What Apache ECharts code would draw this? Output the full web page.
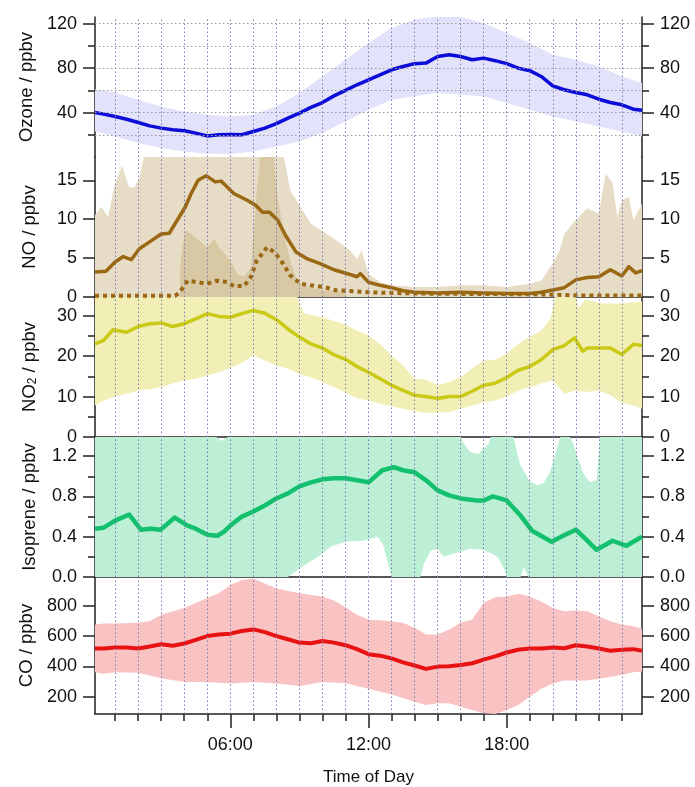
<!DOCTYPE html>
<html><head><meta charset="utf-8">
<script src="https://cdn.jsdelivr.net/npm/echarts@6/dist/echarts.min.js"></script>
<style>html,body{margin:0;padding:0;background:#fff}#c{width:695px;height:787px}</style>
</head><body><div id="c"></div>
<script>
// ---------------- DATA ----------------
const hourGrid = [1,2,3,4,5,6,7,8,9,10,11,12,13,14,15,16,17,18,19,20,21,22,23];
const majorHours = [6,12,18];
const xTickLabels = ['06:00','12:00','18:00'];

// Ozone
const o3Hours = [0.125,0.5,1,1.5,2,2.5,3,3.5,4,4.5,5,5.5,6,6.5,7,7.5,8,8.5,9,9.5,10,10.5,11,11.5,12,12.5,13,13.5,14,14.5,15,15.5,16,16.5,17,17.5,18,18.5,19,19.5,20,20.5,21,21.5,22,22.5,23,23.5,23.875];
const o3Mean  = [40,38.6,36.5,34,31,28,26,24.5,23.6,21.5,19,20,20.3,20,23,26,30,35,39.5,44.6,49,55,60,65,69.5,74,78.5,81.5,84,84.5,90.5,92,90.5,87.5,89,86.7,84,80,77.7,72.5,64,60.5,58,56,52,49,47,43,42];
const o3BandHours = [0.125,1,2,3,4,5,6,7,8,9,10,11,12,13,14,15,16,17,18,19,20,21,22,23,23.875];
const o3Upper = [61,58,51.5,45.5,41,38,36.5,38,45.5,57.5,72.5,87.5,102.5,116,123.6,126.6,126,120.6,111.6,102.5,92,87.5,81.5,72.5,66.5];
const o3Lower = [23,18.5,12.5,8,5,3,2.6,5,9.5,14,21.5,32,42.5,51.5,54.6,57.5,56,54.6,48.5,42.5,36.5,32,27.5,23,18.5];

// NO (solid)
const noHours = [0.125,0.6,1,1.35,1.7,2.05,2.4,3,3.35,3.7,4.05,4.3,4.6,4.95,5.35,5.6,6.15,6.75,7.1,7.4,7.7,8.05,8.4,8.85,9.35,9.9,10.5,11.2,11.5,11.65,12,12.5,13,13.5,14,15,16,17,18,19,19.5,20,20.5,21,21.5,22,22.5,23,23.3,23.6,23.875];
const noMean  = [3.2,3.3,4.5,5.2,4.8,6.2,6.9,8.1,8.2,9.9,11.6,13.3,15,15.6,14.8,14.9,13.3,12.4,11.8,10.9,10.9,9.9,7.9,5.8,4.9,4.3,3.5,2.9,2.6,3.0,1.9,1.5,1.2,0.8,0.6,0.5,0.6,0.5,0.45,0.45,0.6,0.9,1.2,2.2,2.5,2.6,3.5,2.7,3.9,3.1,3.4];
const noBandHours = [0.125,0.4,0.7,0.95,1.3,1.6,1.85,2.05,2.25,8.33,8.6,9.05,9.5,10.05,10.6,11.2,11.5,11.7,12,12.5,13,14,15,16,17,18,19,19.5,20,20.3,20.5,21,21.5,22,22.3,22.6,22.8,23,23.3,23.5,23.875];
const noUpper = [10.5,11.6,10.3,14.1,16.9,14.1,14.1,15.4,18,18,13.7,11.6,9.4,8.4,7.3,6,4.9,6,3,1.9,1.5,1.3,1.3,1.5,1.5,1.3,1.7,2.1,4.3,6,8.1,9.9,11.4,10.7,15.9,14.6,10.3,12.4,12.9,9.9,12];
// NO (dotted, second measurement)
const no2ndHours = [0.125,3.6,3.8,4.15,5,5.4,5.9,6.15,6.6,6.9,7.15,7.6,7.9,8.2,8.6,9.05,9.5,10.05,10.6,11.2,12,14,16,19,20,21,23.875];
const no2ndMean  = [0.15,0.15,0.6,2.1,1.7,2.1,1.9,1.4,1.4,2.6,4.7,6.4,5.8,4.7,2.8,1.7,1.5,1.3,0.86,0.77,0.6,0.45,0.4,0.35,0.3,0.2,0.2];
const no2ndBandHours = [3.8,3.85,4.05,4.3,4.7,5,5.3,5.5,5.75,6,6.3,6.6,6.9,7.15,7.3,7.9,8.05,8.33,8.6,8.9,9.35,10,11];
const no2ndUpper = [0.3,5,8.6,8.1,7.1,6.4,7.5,6.4,5.6,4.7,3,2.6,3.9,13.7,18,18,12.9,8.1,4.7,2.1,1.3,0.9,0.6];

// NO2
const no2Hours = [0.125,0.5,0.9,1.5,2,2.5,3,3.5,4,4.5,5,5.5,6,6.5,7,7.5,8,8.5,9,9.5,10,10.5,11,11.5,12,12.5,13,13.5,14,14.5,15,15.5,16,16.5,17,17.5,18,18.5,19,19.5,20,20.5,20.95,21.3,21.5,22,22.5,23,23.5,23.875];
const no2Mean  = [23,23.9,26.5,25.9,27.3,28,28.2,27.3,28,29.2,30.5,29.8,29.6,30.5,31.3,30.6,29,26.7,24.7,23,22,20.3,19.2,17.4,16,14.4,12.8,11.5,10.3,10,9.5,10,10,11.3,12.8,13.3,14.7,16.5,17.4,19.1,21.6,22.6,24.5,21.2,22,22,22,20.4,22.9,22.6];
const no2UpHours = [0.125,8.9,9.2,10,10.9,11.5,12,12.5,13,13.5,14,14.5,15,15.5,16,16.5,17,17.5,18,18.5,19,19.5,19.9,20.1,21,21.15,21.4,21.8,22.2,23,23.875];
const no2Upper = [34.6,34.6,30.5,29.6,28,26.3,25.1,23,20.2,17.7,14.4,14.2,12.8,13.6,14.8,16.9,18.9,19.1,20.6,23,24.7,26.3,29.2,34.6,34.6,32,34,33.5,33,33,33.5];
const no2LowHours = [0.125,0.5,1,1.5,2,2.5,3,3.5,4,4.5,5,5.5,6,6.5,7,7.5,8,8.5,9,9.5,10,10.5,11,11.5,12,12.5,13,13.5,14,14.5,15,15.5,16,16.5,17,17.5,18,18.5,19,19.5,20,20.5,21,21.5,22,22.5,23,23.5,23.875];
const no2Lower = [7.8,9,10,10.7,11.5,11.8,12.3,13.2,14,14.4,15.2,16,17.1,18.3,20.2,18.9,17.7,16.9,15.6,14.7,13.6,12.3,11,9.5,9,8.2,7.6,7,6.4,6,6,6.2,7,7.8,8.6,9,10,11.5,12.3,13.2,14,10.7,11.5,11.1,11.5,10.3,8.4,7.8,7];

// Isoprene
const isoHours = [0.125,0.5,1,1.61,2.12,2.55,2.98,3.59,4.14,4.5,5,5.44,5.73,6,6.5,7,7.5,8,8.5,9,9.5,10,10.5,11,11.5,12,12.6,13.1,13.5,14,14.5,15,15.5,16,16.7,17,17.4,18,18.6,19.1,19.95,20.45,21,21.5,21.9,22.6,23.2,23.875];
const isoMean  = [0.48,0.49,0.56,0.62,0.47,0.48,0.47,0.59,0.51,0.48,0.42,0.41,0.45,0.51,0.6,0.65,0.71,0.78,0.83,0.9,0.94,0.97,0.98,0.98,0.96,0.94,1.06,1.09,1.06,1.04,0.96,0.86,0.81,0.78,0.76,0.76,0.8,0.76,0.61,0.46,0.35,0.41,0.47,0.36,0.27,0.36,0.31,0.4];
const isoUpHours = [0.125,5.4,5.6,5.9,16.0,16.12,16.41,16.77,17.21,17.31,18.29,18.58,18.97,19.3,19.59,19.88,20.17,20.32,20.75,20.89,21.32,21.61,21.9,22.05,23.875];
const isoUpper = [1.39,1.39,1.35,1.39,1.39,1.33,1.24,1.22,1.32,1.39,1.39,1.12,0.96,0.91,0.93,1.04,1.26,1.39,1.39,1.32,1.03,0.94,0.96,1.39,1.39];
const isoLowHours = [0.125,8.5,9.1,10,10.35,11,11.8,12.4,12.65,12.85,13.0,14.25,14.4,14.7,15,15.25,15.55,16,16.4,17,17.6,17.9,18.0,18.6,18.75,18.95,23.875];
const isoLower = [0,0,0.1,0.23,0.3,0.35,0.36,0.4,0.31,0.13,0,0,0.13,0.26,0.28,0.2,0.22,0.25,0.28,0.27,0.2,0.07,0,0,0.1,0,0];

// CO
const coHours = [0.125,0.5,1,1.5,2,2.5,3,3.5,4,4.5,5,5.5,6,6.5,7,7.5,8,8.5,9,9.5,10,10.5,11,11.5,12,12.5,13,13.5,14,14.5,15,15.5,16,16.5,17,17.5,18,18.5,19,19.5,20,20.5,21,21.5,22,22.5,23,23.5,23.875];
const coMean  = [518,518,525,525,518,531,546,536,551,575,600,611,616,633,644,626,600,579,557,553,568,557,540,514,481,471,453,427,406,384,399,401,410,421,445,466,492,510,518,518,525,520,540,531,518,503,510,514,503];
const coUpHours = [0.125,0.5,1,2,2.5,3,4,4.5,5,5.5,6,6.5,7,7.5,8,9,10,10.5,11,11.5,12,13,13.5,14,14.5,15,15.5,16,16.5,17,17.5,18,18.5,19,19.5,20,20.5,21,21.5,22,22.5,23,23.5,23.875];
const coUpper = [676,683,683,687,698,741,785,817,850,882,936,969,979,947,914,882,860,835,790,740,709,698,687,655,611,611,644,687,709,817,856,860,878,860,828,785,763,769,763,730,698,676,665,648];
const coLowHours = [0.125,0.5,1,2,3,4,5,6,7,8,9,10,11,12,13,14,14.5,15,15.5,16,16.5,17,17.5,18,18.5,19,19.5,20,20.5,21,21.5,22,22.5,23,23.5,23.875];
const coLower = [362,352,362,358,323,297,297,287,297,287,271,297,290,254,215,168,146,157,157,135,113,92,87,113,146,200,254,287,308,308,308,319,330,345,362,367];

// Axis ticks / labels
const o3Ticks = [40,80,120], o3Minor = [20,60,100];
const noTicks = [0,5,10,15], noMinor = [];
const no2Ticks = [0,10,20,30], no2Minor = [5,15,25];
const isoTicks = [0,0.4,0.8,1.2], isoMinor = [0.2,0.6,1.0];
const coTicks = [200,400,600,800], coMinor = [];
const o3HLines = [20,40,60,80,100,120];

// ---------------- CHART ----------------
const FONT = '"Liberation Sans", Arial, sans-serif';
const AX = '#222';
const X0 = 0.125, X1 = 23.875;
const zip = (h, v) => h.map((x, i) => [x, v[i]]);

const panels = [
  {top:17,  height:140, min:0,  max:126,  ticks:o3Ticks,  minor:o3Minor,  name:'Ozone / ppbv', fmt:v=>String(v)},
  {top:157, height:140, min:0,  max:18,   ticks:noTicks,  minor:noMinor,  name:'NO / ppbv', fmt:v=>String(v)},
  {top:297, height:140, min:0,  max:34.6, ticks:no2Ticks, minor:no2Minor, name:'NO{sub|2} / ppbv', fmt:v=>String(v)},
  {top:437, height:140, min:0,  max:1.39, ticks:isoTicks, minor:isoMinor, name:'Isoprene / ppbv', fmt:v=>v.toFixed(1)},
  {top:577, height:139, min:87, max:989,  ticks:coTicks,  minor:coMinor,  name:'CO / ppbv', fmt:v=>String(v)}
];

const grids = panels.map(p => ({left:95, width:547, top:p.top, height:p.height}));

const xAxes = panels.map((p, i) => ({
  gridIndex:i, type:'value', min:X0, max:X1, position:'bottom',
  axisLine:{show:i>0, onZero:false, lineStyle:{color:AX, width:1.5}},
  axisTick:i===4 ? {show:true, customValues:hourGrid, length:7, lineStyle:{color:AX, width:1.5}} : {show:false},
  axisLabel:{show:false}, splitLine:{show:false}
}));
xAxes.push({
  gridIndex:4, type:'value', min:X0, max:X1, position:'bottom',
  axisLine:{show:false, onZero:false},
  axisTick:{show:true, customValues:majorHours, length:14, lineStyle:{color:AX, width:1.5}},
  axisLabel:{show:true, customValues:majorHours, margin:22, fontSize:18, color:'#111', fontFamily:FONT,
    formatter:v => xTickLabels[majorHours.indexOf(Math.round(v))] || ''},
  splitLine:{show:false},
  name:'Time of Day', nameLocation:'middle', nameGap:55,
  nameTextStyle:{fontSize:17, color:'#111', fontFamily:FONT}
});

const yAxes = [];
panels.forEach((p, i) => {
  ['left','right'].forEach(side => {
    yAxes.push({
      gridIndex:i, type:'value', position:side, min:p.min, max:p.max,
      axisLine:{show:true, onZero:false, lineStyle:{color:AX, width:1.5}},
      axisTick:{show:true, customValues:p.ticks, length:12, lineStyle:{color:AX, width:1.5}},
      axisLabel:{show:true, customValues:p.ticks, margin:18, fontSize:18, color:'#111', fontFamily:FONT, formatter:p.fmt},
      splitLine:{show:false},
      name: side==='left' ? p.name : '', nameLocation:'middle', nameGap:56,
      nameTextStyle:{fontSize:18.5, color:'#111', fontFamily:FONT,
        rich:{sub:{fontSize:12, color:'#111', fontFamily:FONT, verticalAlign:'bottom', padding:[6,0,0,0]}}}
    });
    yAxes.push({
      gridIndex:i, type:'value', position:side, min:p.min, max:p.max,
      axisLine:{show:false, onZero:false},
      axisTick:p.minor.length ? {show:true, customValues:p.minor, length:7, lineStyle:{color:AX, width:1.5}} : {show:false},
      axisLabel:{show:false}, splitLine:{show:false}
    });
  });
});
const yL = i => 4*i;

function band(i, upH, upV, lowH, lowV, color, z) {
  return {
    type:'custom', xAxisIndex:i, yAxisIndex:yL(i), clip:true, silent:true, z:z||1,
    data:[[upH[0], upV[0]]],
    renderItem:(params, api) => {
      const pts = upH.map((h, k) => api.coord([h, upV[k]]));
      for (let k = lowH.length - 1; k >= 0; k--) pts.push(api.coord([lowH[k], lowV[k]]));
      return {type:'polygon', shape:{points:pts}, style:{fill:color}};
    }
  };
}
function line(i, h, v, color, width, dash) {
  return {
    type:'line', xAxisIndex:i, yAxisIndex:yL(i), data:zip(h, v), showSymbol:false, symbol:'none',
    clip:true, silent:true, z:4,
    lineStyle:{color:color, width:width, type:dash||'solid', cap:'butt', join:'round'}
  };
}
function gridLines(i) {
  const data = hourGrid.map(h => ({xAxis:h, lineStyle:{color:'#7c7cb8'}}));
  if (i === 0) o3HLines.forEach(v => data.push({yAxis:v, lineStyle:{color:'#9a9a9a'}}));
  return {
    type:'line', xAxisIndex:i, yAxisIndex:yL(i), data:[], z:3, silent:true,
    markLine:{silent:true, symbol:['none','none'], label:{show:false}, animation:false,
      lineStyle:{width:1, type:[1.5,2.5]}, emphasis:{disabled:true}, data:data}
  };
}

const series = [
  band(0, o3BandHours, o3Upper, o3BandHours, o3Lower, '#e2e2fa'),
  band(1, noBandHours, noUpper, [X0, X1], [0, 0], '#e7dcc5'),
  band(1, no2ndBandHours, no2ndUpper, [no2ndBandHours[0], no2ndBandHours[no2ndBandHours.length-1]], [0, 0], '#d8c8a3', 2),
  band(2, no2UpHours, no2Upper, no2LowHours, no2Lower, '#f1efb6'),
  band(3, isoUpHours, isoUpper, isoLowHours, isoLower, '#bdefd7'),
  band(4, coUpHours, coUpper, coLowHours, coLower, '#f9c3c3'),
  gridLines(0), gridLines(1), gridLines(2), gridLines(3), gridLines(4),
  line(0, o3Hours, o3Mean, '#0c0cd8', 3.5),
  line(1, no2ndHours, no2ndMean, '#9a6812', 4, [4,4]),
  line(1, noHours, noMean, '#9a6812', 3.5),
  line(2, no2Hours, no2Mean, '#c9c916', 3.5),
  line(3, isoHours, isoMean, '#12c06e', 4.5),
  line(4, coHours, coMean, '#e81212', 4)
];

const chart = echarts.init(document.getElementById('c'));
chart.setOption({
  backgroundColor:'#ffffff', animation:false,
  grid:grids, xAxis:xAxes, yAxis:yAxes, series:series
});
</script></body></html>
